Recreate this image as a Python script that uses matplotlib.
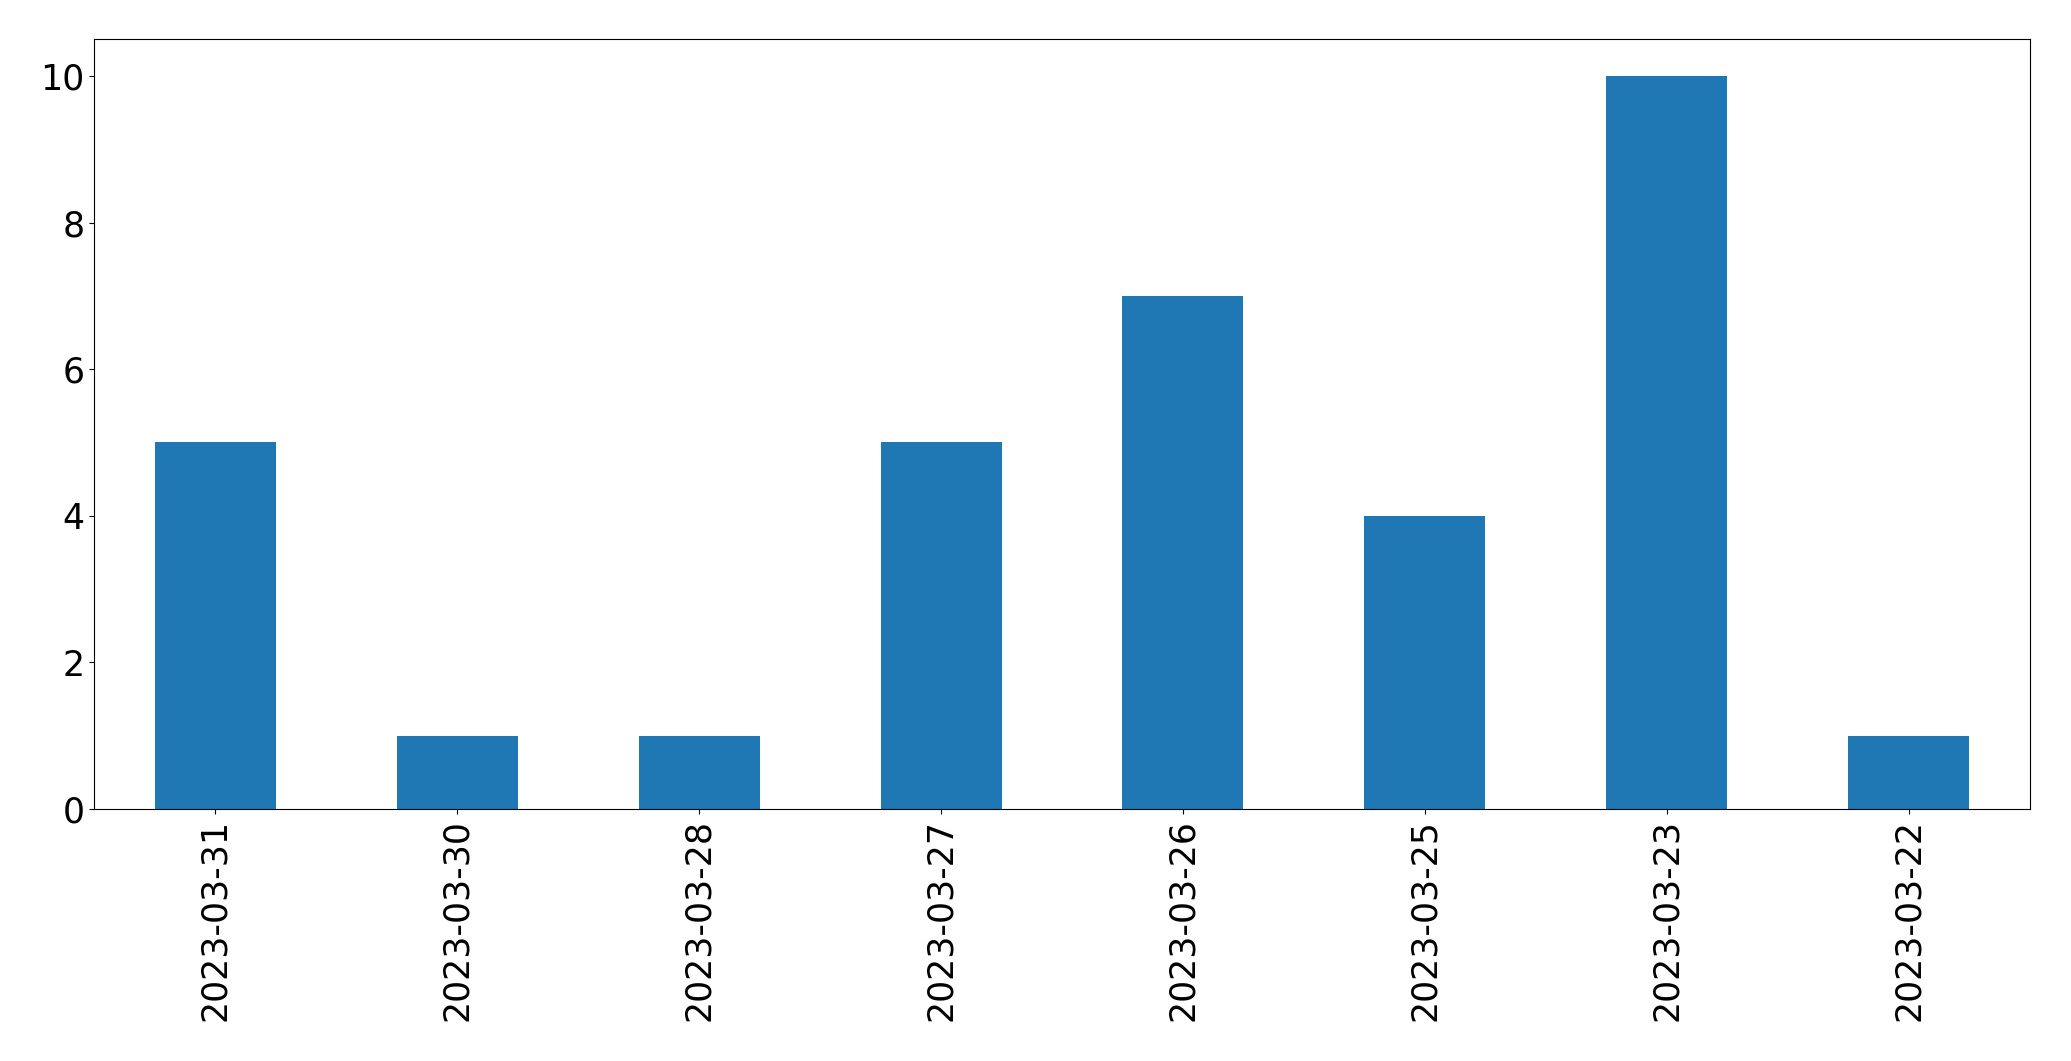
import matplotlib
matplotlib.use("Agg")
import matplotlib.pyplot as plt
import numpy as np

# counts per day
dates = ["2023-03-31", "2023-03-30", "2023-03-28", "2023-03-27",
         "2023-03-26", "2023-03-25", "2023-03-23", "2023-03-22"]
counts = [5, 1, 1, 5, 7, 4, 10, 1]

fig = plt.figure(figsize=(20.71, 10.61), dpi=100)
ax = fig.add_axes([0.0456, 0.2375, 0.9344, 0.7255])

x = np.arange(len(dates))
ax.bar(x, counts, width=0.5, color="#1f77b4")
ax.set_xlim(-0.5, len(dates) - 0.5)
ax.set_xticks(x)
ax.set_xticklabels(dates, rotation=90)
ax.tick_params(axis="both", labelsize=25)

fig.savefig("out.png", dpi=100)
